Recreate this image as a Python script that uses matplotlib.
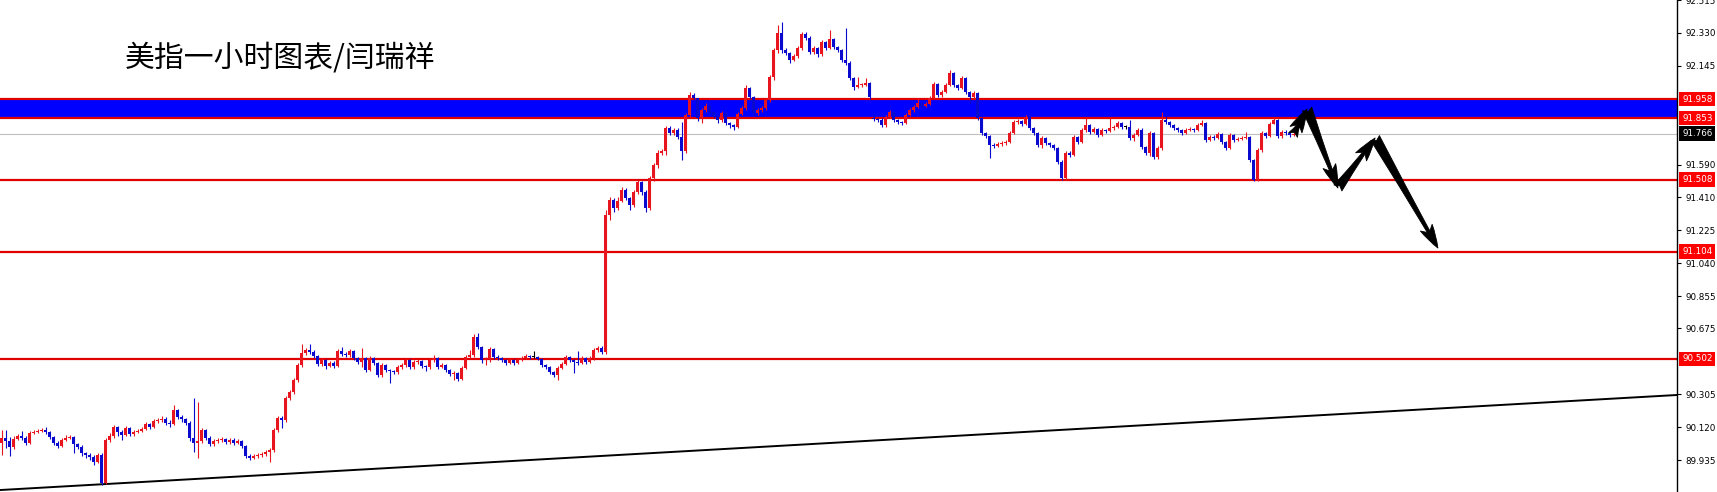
import numpy as np
import matplotlib.pyplot as plt

# --- hourly bars (open = previous close) ---
FIRST_OPEN = 90.031
CLOSES = [
    90.059, 90.042, 90.008, 90.053, 90.070, 90.059, 90.031, 90.087, 90.092, 90.098,
    90.104, 90.092, 90.064, 90.031, 90.014, 90.048, 90.059, 90.064, 90.025, 90.008,
    89.975, 89.963, 89.952, 89.924, 89.963, 89.806, 90.048, 90.070, 90.120, 90.092,
    90.076, 90.115, 90.081, 90.092, 90.098, 90.109, 90.137, 90.120, 90.154, 90.160,
    90.165, 90.143, 90.137, 90.216, 90.176, 90.165, 90.143, 90.059, 90.031, 90.042,
    90.104, 90.059, 90.025, 90.042, 90.048, 90.053, 90.036, 90.048, 90.031, 90.042,
    90.014, 89.958, 89.947, 89.958, 89.963, 89.969, 89.980, 89.991, 90.104, 90.171,
    90.160, 90.283, 90.317, 90.384, 90.468, 90.535, 90.552, 90.541, 90.519, 90.474,
    90.496, 90.463, 90.479, 90.463, 90.547, 90.530, 90.524, 90.547, 90.507, 90.485,
    90.507, 90.440, 90.507, 90.479, 90.412, 90.468, 90.440, 90.434, 90.429, 90.457,
    90.468, 90.496, 90.457, 90.485, 90.491, 90.463, 90.457, 90.496, 90.507, 90.457,
    90.468, 90.440, 90.418, 90.423, 90.390, 90.451, 90.513, 90.524, 90.625, 90.569,
    90.496, 90.502, 90.558, 90.513, 90.507, 90.496, 90.479, 90.496, 90.479, 90.496,
    90.507, 90.519, 90.513, 90.513, 90.502, 90.468, 90.457, 90.429, 90.412, 90.451,
    90.474, 90.513, 90.496, 90.485, 90.479, 90.507, 90.485, 90.507, 90.552, 90.563,
    90.541, 91.309, 91.393, 91.349, 91.390, 91.449, 91.405, 91.365, 91.438, 91.494,
    91.438, 91.349, 91.517, 91.590, 91.657, 91.668, 91.797, 91.769, 91.786, 91.747,
    91.668, 91.870, 91.982, 91.965, 91.853, 91.898, 91.921, 91.887, 91.864, 91.842,
    91.881, 91.825, 91.814, 91.803, 91.876, 91.909, 92.022, 91.971, 91.881, 91.898,
    91.909, 91.954, 92.083, 92.235, 92.330, 92.235, 92.218, 92.179, 92.201, 92.246,
    92.324, 92.302, 92.223, 92.246, 92.212, 92.279, 92.246, 92.296, 92.251, 92.235,
    92.179, 92.162, 92.078, 92.027, 92.038, 92.041, 92.050, 91.971, 91.848, 91.842,
    91.814, 91.859, 91.887, 91.842, 91.831, 91.825, 91.870, 91.898, 91.915, 91.937,
    91.921, 91.932, 91.965, 92.044, 91.982, 91.999, 92.038, 92.106, 92.038, 92.022,
    92.078, 91.999, 91.971, 91.993, 91.853, 91.769, 91.752, 91.702, 91.696, 91.707,
    91.713, 91.719, 91.769, 91.831, 91.836, 91.820, 91.859, 91.797, 91.769, 91.702,
    91.741, 91.713, 91.702, 91.685, 91.607, 91.517, 91.657, 91.646, 91.747, 91.719,
    91.786, 91.814, 91.775, 91.792, 91.758, 91.786, 91.780, 91.797, 91.803, 91.825,
    91.803, 91.803, 91.741, 91.758, 91.786, 91.691, 91.657, 91.769, 91.635, 91.685,
    91.842, 91.831, 91.814, 91.797, 91.786, 91.769, 91.786, 91.792, 91.786, 91.814,
    91.825, 91.730, 91.747, 91.741, 91.764, 91.719, 91.685, 91.758, 91.730, 91.736,
    91.741, 91.747, 91.618, 91.506, 91.674, 91.769, 91.752, 91.820, 91.842, 91.752,
    91.775, 91.769, 91.758, 91.766,
]
HIGHS = [
    90.104, 90.104, 90.064, 90.070, 90.081, 90.098, 90.070, 90.098, 90.104, 90.109,
    90.115, 90.120, 90.098, 90.070, 90.042, 90.059, 90.076, 90.076, 90.070, 90.031,
    90.020, 89.980, 89.975, 89.963, 89.975, 89.975, 90.059, 90.087, 90.132, 90.126,
    90.104, 90.126, 90.120, 90.104, 90.109, 90.120, 90.148, 90.143, 90.165, 90.171,
    90.182, 90.176, 90.160, 90.244, 90.221, 90.188, 90.171, 90.154, 90.283, 90.260,
    90.115, 90.109, 90.070, 90.053, 90.059, 90.064, 90.059, 90.059, 90.059, 90.053,
    90.048, 90.020, 89.969, 89.969, 89.975, 89.980, 89.991, 90.003, 90.115, 90.182,
    90.182, 90.294, 90.328, 90.395, 90.479, 90.586, 90.563, 90.586, 90.552, 90.524,
    90.507, 90.502, 90.490, 90.490, 90.558, 90.569, 90.541, 90.558, 90.552, 90.513,
    90.563, 90.513, 90.519, 90.513, 90.485, 90.479, 90.474, 90.446, 90.440, 90.468,
    90.479, 90.507, 90.502, 90.496, 90.502, 90.496, 90.468, 90.507, 90.524, 90.513,
    90.479, 90.474, 90.446, 90.434, 90.429, 90.463, 90.524, 90.552, 90.642, 90.648,
    90.575, 90.513, 90.569, 90.563, 90.524, 90.513, 90.502, 90.507, 90.502, 90.507,
    90.519, 90.530, 90.524, 90.547, 90.519, 90.507, 90.474, 90.463, 90.434, 90.463,
    90.485, 90.524, 90.519, 90.502, 90.547, 90.519, 90.513, 90.519, 90.563, 90.575,
    90.575, 91.337, 91.410, 91.404, 91.410, 91.466, 91.460, 91.410, 91.449, 91.506,
    91.500, 91.449, 91.528, 91.602, 91.674, 91.680, 91.808, 91.808, 91.797, 91.797,
    91.831, 91.881, 91.999, 91.993, 91.965, 91.909, 91.937, 91.926, 91.893, 91.870,
    91.893, 91.887, 91.831, 91.820, 91.887, 91.921, 92.038, 92.027, 91.976, 91.909,
    91.921, 91.965, 92.094, 92.246, 92.375, 92.392, 92.246, 92.223, 92.212, 92.257,
    92.336, 92.336, 92.313, 92.257, 92.251, 92.290, 92.285, 92.347, 92.302, 92.257,
    92.240, 92.358, 92.173, 92.083, 92.083, 92.050, 92.078, 92.055, 91.870, 91.853,
    91.853, 91.870, 91.898, 91.893, 91.848, 91.836, 91.881, 91.909, 91.926, 91.965,
    91.943, 91.943, 91.976, 92.055, 92.050, 92.010, 92.050, 92.122, 92.111, 92.044,
    92.089, 92.083, 92.005, 92.005, 91.999, 91.859, 91.775, 91.758, 91.713, 91.719,
    91.724, 91.730, 91.780, 91.842, 91.848, 91.842, 91.870, 91.864, 91.803, 91.775,
    91.752, 91.747, 91.719, 91.707, 91.690, 91.618, 91.668, 91.668, 91.758, 91.752,
    91.797, 91.853, 91.820, 91.803, 91.797, 91.797, 91.792, 91.853, 91.814, 91.836,
    91.831, 91.814, 91.842, 91.769, 91.797, 91.797, 91.696, 91.780, 91.775, 91.696,
    91.887, 91.859, 91.836, 91.820, 91.803, 91.792, 91.797, 91.803, 91.797, 91.825,
    91.842, 91.831, 91.758, 91.758, 91.775, 91.769, 91.724, 91.769, 91.764, 91.747,
    91.752, 91.775, 91.752, 91.624, 91.685, 91.780, 91.775, 91.831, 91.859, 91.848,
    91.786, 91.786, 91.780, 91.775,
]
LOWS = [
    89.963, 90.003, 89.958, 89.997, 90.048, 90.048, 90.020, 90.025, 90.081, 90.087,
    90.092, 90.081, 90.053, 90.020, 90.003, 90.008, 90.042, 90.053, 89.975, 89.997,
    89.958, 89.947, 89.935, 89.907, 89.918, 89.795, 89.800, 90.036, 90.059, 90.070,
    90.048, 90.070, 90.070, 90.070, 90.087, 90.092, 90.104, 90.109, 90.115, 90.143,
    90.148, 90.132, 90.120, 90.132, 90.165, 90.148, 90.132, 90.042, 89.980, 89.947,
    90.031, 90.048, 90.014, 90.014, 90.031, 90.036, 90.025, 90.025, 90.020, 90.025,
    90.003, 89.947, 89.935, 89.941, 89.947, 89.952, 89.958, 89.924, 89.980, 90.092,
    90.115, 90.148, 90.272, 90.305, 90.373, 90.457, 90.524, 90.530, 90.507, 90.463,
    90.463, 90.446, 90.457, 90.451, 90.457, 90.519, 90.513, 90.513, 90.496, 90.474,
    90.457, 90.429, 90.434, 90.468, 90.401, 90.401, 90.429, 90.368, 90.418, 90.418,
    90.446, 90.457, 90.446, 90.446, 90.474, 90.451, 90.434, 90.446, 90.485, 90.446,
    90.451, 90.429, 90.407, 90.384, 90.379, 90.384, 90.446, 90.507, 90.513, 90.558,
    90.479, 90.468, 90.485, 90.502, 90.496, 90.485, 90.468, 90.474, 90.468, 90.474,
    90.490, 90.502, 90.502, 90.507, 90.496, 90.457, 90.446, 90.418, 90.401, 90.384,
    90.446, 90.468, 90.485, 90.423, 90.468, 90.474, 90.474, 90.479, 90.496, 90.541,
    90.530, 90.530, 91.281, 91.326, 91.337, 91.382, 91.393, 91.337, 91.354, 91.426,
    91.421, 91.326, 91.337, 91.500, 91.573, 91.646, 91.646, 91.758, 91.758, 91.736,
    91.618, 91.657, 91.859, 91.954, 91.836, 91.825, 91.887, 91.876, 91.853, 91.825,
    91.831, 91.814, 91.797, 91.786, 91.797, 91.870, 91.898, 91.960, 91.870, 91.870,
    91.887, 91.898, 91.943, 92.066, 92.218, 92.218, 92.207, 92.162, 92.173, 92.190,
    92.235, 92.290, 92.212, 92.212, 92.195, 92.201, 92.235, 92.240, 92.240, 92.223,
    92.168, 92.151, 92.066, 92.010, 92.020, 92.027, 92.032, 91.960, 91.836, 91.831,
    91.803, 91.803, 91.853, 91.831, 91.820, 91.814, 91.820, 91.864, 91.887, 91.909,
    91.909, 91.915, 91.926, 91.960, 91.971, 91.971, 91.993, 92.032, 92.027, 92.010,
    92.015, 91.987, 91.937, 91.960, 91.842, 91.758, 91.741, 91.629, 91.685, 91.690,
    91.696, 91.702, 91.713, 91.764, 91.820, 91.808, 91.814, 91.786, 91.758, 91.690,
    91.685, 91.702, 91.690, 91.674, 91.596, 91.506, 91.506, 91.635, 91.640, 91.707,
    91.713, 91.775, 91.764, 91.769, 91.747, 91.752, 91.769, 91.775, 91.786, 91.797,
    91.792, 91.792, 91.730, 91.724, 91.752, 91.680, 91.646, 91.640, 91.624, 91.624,
    91.674, 91.820, 91.803, 91.786, 91.775, 91.758, 91.764, 91.780, 91.775, 91.780,
    91.808, 91.719, 91.724, 91.730, 91.735, 91.707, 91.674, 91.680, 91.719, 91.724,
    91.730, 91.736, 91.607, 91.500, 91.500, 91.663, 91.741, 91.747, 91.820, 91.741,
    91.741, 91.758, 91.747, 91.752,
]
GAP_OPENS = {218: 91.853}  # bar that opened away from the prior close

# --- levels and drawings ---
RED_LEVELS = [91.958, 91.853, 91.508, 91.104, 90.502]
ZONE = (91.853, 91.958)
LAST_PRICE = 91.766
AXIS_TICKS = [92.515, 92.330, 92.145, 91.590, 91.410, 91.225, 91.040,
              90.855, 90.675, 90.305, 90.120, 89.935]
TREND = [(-0.375, 89.767), (418.875, 90.300)]
FORECAST = [(322.9, 91.758), (326.4, 91.904), (334.1, 91.461),
            (343.4, 91.741), (359.1, 91.124)]
TITLE = '美指一小时图表/闫瑞祥'

W, H = 1717, 492
AX_W = 1677

assert len(CLOSES) == len(HIGHS) == len(LOWS)

closes = np.array(CLOSES)
opens = np.concatenate([[FIRST_OPEN], closes[:-1]])
for i, v in GAP_OPENS.items():
    opens[i] = v
highs = np.array(HIGHS)
lows = np.array(LOWS)
x = np.arange(len(closes))

UP, DOWN, FLAT = '#E8141E', '#0A0ACF', '#000000'
colors = np.where(closes > opens, UP, np.where(closes < opens, DOWN, FLAT))

fig = plt.figure(figsize=(W / 100, H / 100), dpi=100)
ax = fig.add_axes([0, 0, AX_W / W, 1])
ax.set_xlim(-0.375, 418.875)
ax.set_ylim(89.756, 92.515)

# support / resistance
ax.axhspan(ZONE[0], ZONE[1], color='#0000FF', lw=0, zorder=1)
for lv in RED_LEVELS:
    ax.axhline(lv, color='#E00000', lw=1.6, zorder=2)
ax.axhline(LAST_PRICE, color='#C0C0C0', lw=0.8, zorder=1)

# trend line
ax.plot([p[0] for p in TREND], [p[1] for p in TREND], color='black', lw=1.4, zorder=2)

# candles
ax.vlines(x, lows, highs, colors=colors, lw=0.8, zorder=3)
body_h = np.maximum(np.abs(closes - opens), 0.004)
body_b = np.minimum(opens, closes)
ax.bar(x, body_h, bottom=body_b, width=0.74, color=colors, lw=0, zorder=4)

# forecast arrows
for a, b in zip(FORECAST[:-1], FORECAST[1:]):
    ax.annotate('', xy=b, xytext=a,
                arrowprops=dict(arrowstyle='fancy,head_length=1.3,head_width=0.75,tail_width=0.55',
                                fc='black', ec='black', lw=0.6, mutation_scale=13,
                                shrinkA=0, shrinkB=0), zorder=5)

# right price axis
for s in ['top', 'left', 'bottom']:
    ax.spines[s].set_visible(False)
ax.spines['right'].set_color('black')
ax.spines['right'].set_linewidth(1)
ax.set_xticks([])
ax.yaxis.tick_right()
ax.set_yticks(AXIS_TICKS)
ax.set_yticklabels([f'{v:.3f}' for v in AXIS_TICKS])
ax.tick_params(axis='y', direction='out', length=3, width=0.8, pad=3,
               labelsize=6.3, colors='black')

trans = ax.get_yaxis_transform()
for lv in RED_LEVELS + [LAST_PRICE]:
    fc = 'black' if lv == LAST_PRICE else '#FF0000'
    ax.text(1 + 5 / AX_W, lv, f'{lv:.3f}', transform=trans, fontsize=6.3,
            color='white', va='center', ha='left', clip_on=False, zorder=6,
            bbox=dict(boxstyle='square,pad=0.3', fc=fc, ec='none'))

fig.text(125 / W, 1 - 58 / H, TITLE, fontsize=21.5, va='center', ha='left',
         family=['Noto Sans CJK SC', 'DejaVu Sans'], color='black')

fig.savefig('out.png', dpi=100)
